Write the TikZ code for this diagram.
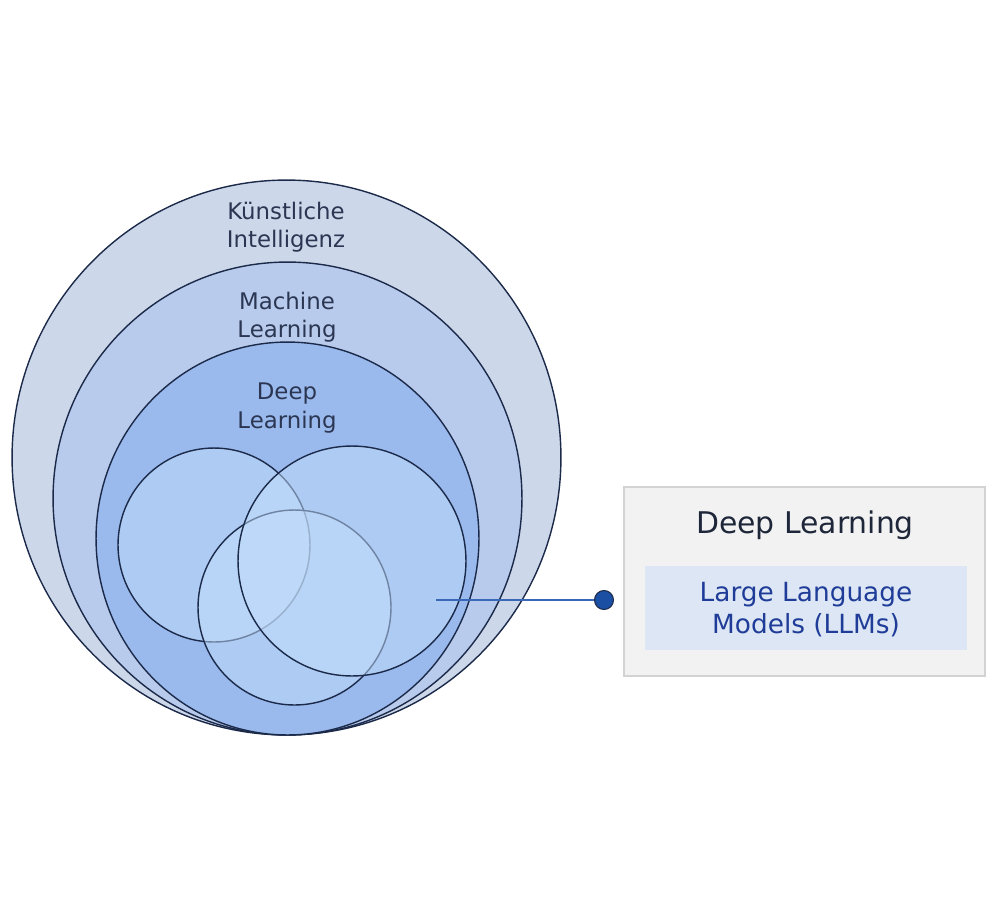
\documentclass[tikz,border=0pt]{standalone}
\usepackage{fontspec}
\setmainfont{DejaVu Sans}
\usetikzlibrary{positioning, shapes.geometric}

\definecolor{ringline}{HTML}{1C2A4A}
\definecolor{kifill}{HTML}{CDD7EA}
\definecolor{mlfill}{HTML}{B8CBEC}
\definecolor{dlfill}{HTML}{9AB9EC}
\definecolor{vennfill}{HTML}{C2DDFA}
\definecolor{labeltext}{HTML}{2B3652}
\definecolor{boxfill}{HTML}{F2F2F2}
\definecolor{boxline}{HTML}{D3D3D3}
\definecolor{llmfill}{HTML}{DCE6F4}
\definecolor{llmtext}{HTML}{1F3C98}
\definecolor{pointer}{HTML}{3A68B8}
\definecolor{dotfill}{HTML}{1A4FA3}

\begin{document}
\begin{tikzpicture}
    [
        x=0.02cm, y=-0.02cm,
        ring_node/.style={ellipse, draw=ringline, line width=0.8pt, inner sep=0pt},
        venn_node/.style={ellipse, draw=ringline, line width=0.8pt, fill=vennfill, fill opacity=0.5, inner sep=0pt},
        ring_label/.style={align=center, text=labeltext, font=\fontsize{13}{16}\selectfont},
    ]
        \useasboundingbox (0,0) rectangle (1000,913) ;
        % nested fields
        \node[ring_node, fill=kifill, minimum width=10.98cm, minimum height=11.1cm] (ki) at (286.5,457.5) {} ;
        \node[ring_node, fill=mlfill, minimum width=9.38cm, minimum height=9.46cm] (ml) at (287.5,498.5) {} ;
        \node[ring_node, fill=dlfill, minimum width=7.66cm, minimum height=7.86cm] (dl) at (287.5,538.5) {} ;
        \node[ring_label] (ki_text) at (286,227) {Künstliche\\Intelligenz} ;
        \node[ring_label] (ml_text) at (287,317) {Machine\\Learning} ;
        \node[ring_label] (dl_text) at (287,408) {Deep\\Learning} ;
        % overlapping circles
        \node[venn_node, minimum width=3.84cm, minimum height=3.88cm] (venn_left) at (214,545) {} ;
        \node[venn_node, minimum width=3.86cm, minimum height=3.9cm] (venn_bottom) at (294.5,607.5) {} ;
        \node[venn_node, minimum width=4.56cm, minimum height=4.6cm] (venn_right) at (352,561) {} ;
        % legend
        \coordinate (llm_point) at (436,600) ;
        \node[circle, draw=ringline, fill=dotfill, line width=0.6pt, minimum width=0.38cm, minimum height=0.35cm, inner sep=0pt] (dot) at (604,600) {} ;
        \draw[line width=0.6pt, color=pointer] (llm_point) -- (dot) ;
        \node[rectangle, draw=boxline, fill=boxfill, line width=0.8pt, minimum width=7.22cm, minimum height=3.78cm] (legend) at (804.5,581.5) {} ;
        \node[text=labeltext!70!black, font=\fontsize{17}{20}\selectfont] (legend_title) at (805,525) {Deep Learning} ;
        \node[rectangle, fill=llmfill, minimum width=6.44cm, minimum height=1.68cm, text depth=0pt, align=center, text=llmtext, font=\fontsize{15}{18.2}\selectfont] (llm) at (806,608) {Large Language\\Models (LLMs)} ;
    \end{tikzpicture}
\end{document}
